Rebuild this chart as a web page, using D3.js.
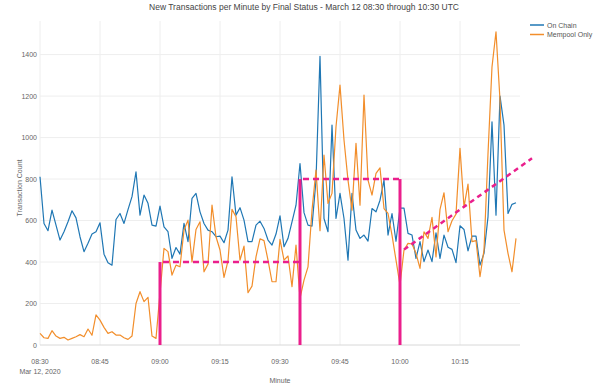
<!DOCTYPE html>
<html>
<head>
<meta charset="utf-8">
<script src="https://cdn.jsdelivr.net/npm/d3@7"></script>
<style>
  body { margin: 0; background: #fff; }
  svg { font-family: "Liberation Sans", Arial, sans-serif; }
</style>
</head>
<body>
<svg id="chart" width="599" height="388"></svg>
<script>
// minute-by-minute counts, 08:30 .. 10:29
const startTime = "2020-03-12T08:30";
const onChain = [
  811, 586, 551, 650, 578, 506, 546, 594, 647, 613,
  522, 450, 490, 535, 546, 589, 438, 397, 385, 605,
  634, 586, 653, 715, 835, 626, 723, 683, 578, 573,
  670, 570, 546, 418, 470, 438, 586, 498, 707, 731,
  642, 586, 554, 546, 522, 525, 493, 554, 811, 626,
  662, 602, 498, 498, 578, 597, 562, 506, 482, 535,
  623, 474, 514, 594, 674, 875, 638, 578, 573, 795,
  1392, 610, 546, 1060, 610, 731, 610, 409, 731, 554,
  514, 530, 501, 658, 642, 698, 795, 530, 634, 500,
  660, 660, 538, 530, 418, 498, 402, 458, 402, 541,
  418, 530, 471, 461, 397, 575, 557, 454, 525, 525,
  385, 442, 618, 1076, 626, 1200, 1060, 634, 678, 686
];
const mempoolOnly = [
  56, 35, 32, 69, 43, 32, 37, 24, 32, 40,
  50, 40, 77, 47, 145, 120, 85, 56, 64, 48,
  48, 35, 27, 43, 200, 257, 209, 230, 43, 32,
  250, 466, 450, 337, 385, 377, 554, 602, 401, 557,
  594, 353, 390, 674, 522, 458, 326, 406, 654, 618,
  409, 477, 252, 284, 425, 512, 503, 409, 305, 305,
  509, 409, 429, 281, 482, 225, 313, 377, 650, 843,
  551, 915, 683, 731, 1052, 1253, 988, 795, 650, 972,
  674, 1205, 795, 723, 827, 854, 658, 634, 530, 409,
  289, 458, 490, 487, 442, 369, 546, 514, 615, 425,
  654, 734, 546, 599, 631, 948, 666, 776, 498, 503,
  329, 458, 923, 1341, 1510, 1180, 554, 442, 353, 514
];
const seriesNames = ["On Chain", "Mempool Only"];
const yTicks = [0, 200, 400, 600, 800, 1000, 1200, 1400];

// reference levels drawn in pink
const levelSteps = [
  { from: "09:00", to: "09:35", value: 400 },
  { from: "09:35", to: "10:00", value: 800 }
];
const levelMarks = [
  { at: "09:00", value: 400 },
  { at: "09:35", value: 800 },
  { at: "10:00", value: 800 }
];
const trend = [
  { at: "10:01", value: 460 },
  { at: "10:33", value: 900 }
];

const svg = d3.select("#chart");
const mLeft = 40, mRight = 520, mTop = 21, mBottom = 345;

const parse = d3.timeParse("%Y-%m-%dT%H:%M");
const t0 = parse(startTime);
const hm = s => parse("2020-03-12T" + s);

const x = d3.scaleTime()
  .domain([t0, hm("10:30")])
  .range([mLeft, mRight]);
const y = d3.scaleLinear()
  .domain([0, 1562])
  .range([mBottom, mTop]);

const times = onChain.map((d, i) => d3.timeMinute.offset(t0, i));

// grid
const xTicks = d3.timeMinute.every(15).range(t0, hm("10:30"));
svg.append("g")
  .selectAll("line")
  .data(xTicks)
  .enter()
  .append("line")
  .attr("x1", d => x(d)).attr("x2", d => x(d))
  .attr("y1", mTop).attr("y2", mBottom)
  .attr("stroke", "#eeeeee")
  .attr("stroke-width", 1);

svg.append("g")
  .selectAll("line")
  .data(yTicks)
  .enter()
  .append("line")
  .attr("x1", mLeft).attr("x2", mRight)
  .attr("y1", d => y(d)).attr("y2", d => y(d))
  .attr("stroke", d => d === 0 ? "#d8d8d8" : "#eeeeee")
  .attr("stroke-width", 1);

// tick labels
svg.append("g")
  .selectAll("text")
  .data(yTicks)
  .enter()
  .append("text")
  .attr("x", mLeft - 3)
  .attr("y", d => y(d) + 2.5)
  .attr("text-anchor", "end")
  .attr("font-size", "7px")
  .attr("fill", "#666")
  .text(d => d);

const fmt = d3.timeFormat("%H:%M");
svg.append("g")
  .selectAll("text")
  .data(xTicks)
  .enter()
  .append("text")
  .attr("x", d => x(d))
  .attr("y", 364)
  .attr("text-anchor", "middle")
  .attr("font-size", "7px")
  .attr("fill", "#666")
  .text(d => fmt(d));

svg.append("text")
  .attr("x", x(t0))
  .attr("y", 374)
  .attr("text-anchor", "middle")
  .attr("font-size", "7px")
  .attr("fill", "#666")
  .text(d3.timeFormat("%b %-d, %Y")(t0));

// axis titles
svg.append("text")
  .attr("x", (mLeft + mRight) / 2)
  .attr("y", 383)
  .attr("text-anchor", "middle")
  .attr("font-size", "7px")
  .attr("fill", "#666")
  .text("Minute");

svg.append("text")
  .attr("transform", "translate(22,188) rotate(-90)")
  .attr("text-anchor", "middle")
  .attr("font-size", "7px")
  .attr("fill", "#666")
  .text("Transaction Count");

svg.append("text")
  .attr("x", 304)
  .attr("y", 10)
  .attr("text-anchor", "middle")
  .attr("font-size", "8.5px")
  .attr("fill", "#444")
  .text("New Transactions per Minute by Final Status - March 12 08:30 through 10:30 UTC");

// series
const colors = d3.scaleOrdinal()
  .domain(seriesNames)
  .range(["#1f77b4", "#f28e2b"]);

const line = d3.line()
  .x((d, i) => x(times[i]))
  .y(d => y(d));

[onChain, mempoolOnly].forEach((vals, k) => {
  svg.append("path")
    .datum(vals)
    .attr("d", line)
    .attr("fill", "none")
    .attr("stroke", colors(seriesNames[k]))
    .attr("stroke-width", 1.2)
    .attr("stroke-linejoin", "round");
});

// pink reference marks
const pink = "#ea1f8c";
svg.append("g")
  .selectAll("line")
  .data(levelSteps)
  .enter()
  .append("line")
  .attr("x1", d => x(hm(d.from)) + 3).attr("x2", d => x(hm(d.to)))
  .attr("y1", d => y(d.value)).attr("y2", d => y(d.value))
  .attr("stroke", pink)
  .attr("stroke-width", 2.5)
  .attr("stroke-dasharray", "6,4");

svg.append("g")
  .selectAll("line")
  .data(levelMarks)
  .enter()
  .append("line")
  .attr("x1", d => x(hm(d.at))).attr("x2", d => x(hm(d.at)))
  .attr("y1", d => y(d.value)).attr("y2", y(0))
  .attr("stroke", pink)
  .attr("stroke-width", 3);

svg.append("path")
  .datum(trend)
  .attr("d", d3.line().x(d => x(hm(d.at))).y(d => y(d.value)))
  .attr("fill", "none")
  .attr("stroke", pink)
  .attr("stroke-width", 2.5)
  .attr("stroke-dasharray", "5,4");

// legend
const legend = svg.append("g")
  .selectAll("g")
  .data(seriesNames)
  .enter()
  .append("g")
  .attr("transform", (d, i) => "translate(530," + (25 + i * 9.5) + ")");

legend.append("line")
  .attr("x1", 0).attr("x2", 14)
  .attr("stroke", d => colors(d))
  .attr("stroke-width", 1.5);

legend.append("text")
  .attr("x", 17)
  .attr("y", 2.5)
  .attr("font-size", "7px")
  .attr("fill", "#555")
  .text(d => d);
</script>
</body>
</html>
